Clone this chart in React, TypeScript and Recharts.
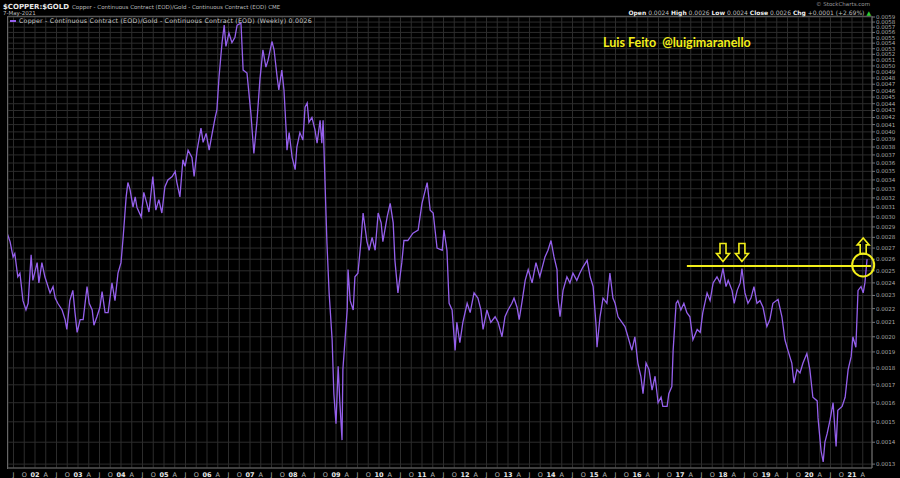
import React from 'react';
import { LineChart, Line, XAxis, YAxis, CartesianGrid, ReferenceLine, ReferenceDot } from 'recharts';

// weekly close of copper / gold (decimal years)
const weekDates = [
  2001.35, 2001.42, 2001.49, 2001.53, 2001.60, 2001.65, 2001.72, 2001.79, 2001.84, 2001.91,
  2001.95, 2002.05, 2002.09, 2002.16, 2002.23, 2002.35, 2002.42, 2002.47, 2002.53, 2002.63,
  2002.70, 2002.74, 2002.81, 2002.88, 2002.93, 2002.98, 2003.05, 2003.12, 2003.21, 2003.26,
  2003.33, 2003.37, 2003.44, 2003.51, 2003.56, 2003.63, 2003.70, 2003.79, 2003.86, 2003.93,
  2004.00, 2004.05, 2004.12, 2004.16, 2004.21, 2004.28, 2004.33, 2004.37, 2004.47, 2004.53,
  2004.60, 2004.65, 2004.74, 2004.81, 2004.88, 2004.95, 2005.02, 2005.09, 2005.19, 2005.26,
  2005.30, 2005.37, 2005.44, 2005.49, 2005.56, 2005.65, 2005.70, 2005.77, 2005.86, 2005.91,
  2005.98, 2006.05, 2006.12, 2006.19, 2006.23, 2006.28, 2006.35, 2006.40, 2006.44, 2006.51,
  2006.58, 2006.65, 2006.70, 2006.79, 2006.84, 2006.93, 2007.02, 2007.09, 2007.16, 2007.23,
  2007.30, 2007.37, 2007.42, 2007.51, 2007.56, 2007.63, 2007.67, 2007.74, 2007.79, 2007.84,
  2007.86, 2007.91, 2007.98, 2008.05, 2008.09, 2008.16, 2008.23, 2008.28, 2008.33, 2008.37,
  2008.44, 2008.51, 2008.56, 2008.63, 2008.67, 2008.70, 2008.74, 2008.79, 2008.84, 2008.91,
  2008.95, 2009.00, 2009.05, 2009.09, 2009.14, 2009.16, 2009.26, 2009.28, 2009.33, 2009.40,
  2009.44, 2009.51, 2009.58, 2009.63, 2009.72, 2009.77, 2009.84, 2009.91, 2009.98, 2010.05,
  2010.09, 2010.19, 2010.26, 2010.33, 2010.37, 2010.44, 2010.53, 2010.58, 2010.67, 2010.79,
  2010.91, 2011.00, 2011.12, 2011.19, 2011.26, 2011.35, 2011.47, 2011.51, 2011.58, 2011.63,
  2011.70, 2011.77, 2011.81, 2011.88, 2011.95, 2012.05, 2012.12, 2012.21, 2012.30, 2012.37,
  2012.42, 2012.51, 2012.60, 2012.70, 2012.77, 2012.86, 2012.93, 2013.00, 2013.09, 2013.14,
  2013.21, 2013.26, 2013.33, 2013.40, 2013.47, 2013.56, 2013.65, 2013.74, 2013.86, 2013.93,
  2014.00, 2014.07, 2014.14, 2014.16, 2014.21, 2014.28, 2014.37, 2014.44, 2014.51, 2014.60,
  2014.67, 2014.74, 2014.84, 2014.91, 2014.98, 2015.05, 2015.07, 2015.14, 2015.21, 2015.30,
  2015.37, 2015.44, 2015.49, 2015.56, 2015.65, 2015.72, 2015.79, 2015.88, 2015.95, 2016.02,
  2016.09, 2016.14, 2016.21, 2016.28, 2016.35, 2016.42, 2016.49, 2016.56, 2016.60, 2016.70,
  2016.74, 2016.81, 2016.84, 2016.91, 2016.95, 2017.02, 2017.09, 2017.16, 2017.23, 2017.30,
  2017.40, 2017.47, 2017.53, 2017.63, 2017.70, 2017.77, 2017.86, 2017.93, 2018.00, 2018.07,
  2018.12, 2018.21, 2018.26, 2018.33, 2018.40, 2018.44, 2018.51, 2018.58, 2018.65, 2018.72,
  2018.79, 2018.86, 2018.93, 2019.02, 2019.09, 2019.16, 2019.28, 2019.37, 2019.44, 2019.51,
  2019.60, 2019.65, 2019.72, 2019.79, 2019.86, 2019.95, 2020.02, 2020.09, 2020.19, 2020.21,
  2020.28, 2020.33, 2020.37, 2020.42, 2020.49, 2020.56, 2020.63, 2020.67, 2020.77, 2020.84,
  2020.91, 2020.98, 2021.02, 2021.09, 2021.14, 2021.21, 2021.26, 2021.30, 2021.35,
];

const copperGold = [
  0.00284, 0.00276, 0.00262, 0.00265, 0.00245, 0.00248, 0.00226, 0.00219, 0.00224, 0.00264,
  0.00242, 0.00257, 0.00240, 0.00257, 0.00245, 0.00232, 0.00237, 0.00228, 0.00224, 0.00219,
  0.00212, 0.00205, 0.00226, 0.00234, 0.00217, 0.00203, 0.00212, 0.00212, 0.00237, 0.00224,
  0.00219, 0.00208, 0.00214, 0.00221, 0.00233, 0.00217, 0.00217, 0.00240, 0.00226, 0.00248,
  0.00257, 0.00280, 0.00321, 0.00337, 0.00329, 0.00310, 0.00321, 0.00310, 0.00300, 0.00326,
  0.00314, 0.00305, 0.00344, 0.00307, 0.00318, 0.00304, 0.00332, 0.00340, 0.00344, 0.00350,
  0.00337, 0.00321, 0.00364, 0.00356, 0.00376, 0.00367, 0.00344, 0.00376, 0.00405, 0.00386,
  0.00398, 0.00376, 0.00398, 0.00420, 0.00431, 0.00482, 0.00541, 0.00574, 0.00534, 0.00559,
  0.00541, 0.00551, 0.00574, 0.00578, 0.00493, 0.00488, 0.00426, 0.00372, 0.00413, 0.00477,
  0.00528, 0.00498, 0.00510, 0.00543, 0.00528, 0.00482, 0.00461, 0.00493, 0.00461, 0.00403,
  0.00376, 0.00399, 0.00367, 0.00352, 0.00380, 0.00399, 0.00389, 0.00435, 0.00441, 0.00413,
  0.00420, 0.00403, 0.00385, 0.00416, 0.00385, 0.00416, 0.00344, 0.00274, 0.00232, 0.00198,
  0.00165, 0.00149, 0.00181, 0.00160, 0.00141, 0.00179, 0.00219, 0.00251, 0.00226, 0.00219,
  0.00245, 0.00248, 0.00276, 0.00304, 0.00276, 0.00268, 0.00280, 0.00268, 0.00304, 0.00294,
  0.00276, 0.00300, 0.00314, 0.00294, 0.00259, 0.00232, 0.00257, 0.00277, 0.00277, 0.00284,
  0.00287, 0.00314, 0.00337, 0.00307, 0.00304, 0.00270, 0.00268, 0.00287, 0.00268, 0.00224,
  0.00219, 0.00191, 0.00210, 0.00196, 0.00210, 0.00224, 0.00217, 0.00232, 0.00228, 0.00219,
  0.00205, 0.00219, 0.00210, 0.00214, 0.00210, 0.00200, 0.00214, 0.00219, 0.00224, 0.00228,
  0.00221, 0.00212, 0.00226, 0.00242, 0.00251, 0.00240, 0.00257, 0.00245, 0.00262, 0.00268,
  0.00277, 0.00262, 0.00251, 0.00228, 0.00214, 0.00234, 0.00245, 0.00240, 0.00248, 0.00242,
  0.00248, 0.00253, 0.00259, 0.00245, 0.00237, 0.00207, 0.00193, 0.00214, 0.00228, 0.00224,
  0.00248, 0.00228, 0.00224, 0.00214, 0.00210, 0.00207, 0.00200, 0.00191, 0.00200, 0.00183,
  0.00175, 0.00165, 0.00183, 0.00179, 0.00167, 0.00175, 0.00160, 0.00163, 0.00158, 0.00158,
  0.00165, 0.00169, 0.00191, 0.00224, 0.00226, 0.00219, 0.00224, 0.00217, 0.00214, 0.00198,
  0.00205, 0.00203, 0.00217, 0.00232, 0.00226, 0.00240, 0.00245, 0.00240, 0.00252, 0.00237,
  0.00242, 0.00234, 0.00224, 0.00234, 0.00240, 0.00252, 0.00232, 0.00224, 0.00228, 0.00237,
  0.00224, 0.00226, 0.00221, 0.00207, 0.00212, 0.00224, 0.00227, 0.00214, 0.00198, 0.00191,
  0.00183, 0.00171, 0.00179, 0.00177, 0.00183, 0.00189, 0.00179, 0.00163, 0.00161, 0.00152,
  0.00136, 0.00131, 0.00140, 0.00144, 0.00151, 0.00160, 0.00138, 0.00156, 0.00158, 0.00163,
  0.00179, 0.00187, 0.00200, 0.00193, 0.00234, 0.00237, 0.00232, 0.00240, 0.00260,
];

const years = [2002, 2003, 2004, 2005, 2006, 2007, 2008, 2009, 2010, 2011, 2012, 2013, 2014, 2015, 2016, 2017, 2018, 2019, 2020, 2021];
const quarterNames = ['', 'A', 'J', 'O'];

const priceTicks = [
  0.0013, 0.0014, 0.0015, 0.0016, 0.0017, 0.0018, 0.0019, 0.0020, 0.0021, 0.0022,
  0.0023, 0.0024, 0.0025, 0.0026, 0.0027, 0.0028, 0.0029, 0.0030, 0.0031, 0.0032,
  0.0033, 0.0034, 0.0035, 0.0036, 0.0037, 0.0038, 0.0039, 0.0040, 0.0041, 0.0042,
  0.0043, 0.0044, 0.0045, 0.0046, 0.0047, 0.0048, 0.0049, 0.0050, 0.0051, 0.0052,
  0.0053, 0.0054, 0.0055, 0.0056, 0.0057, 0.0058, 0.0059,
];

// annotation: resistance line touched twice in 2018, retested in 2021
const resistance = 0.00254;
const resistanceFrom = 2017.16;
const resistanceTo = 2021.44;
const topMarks = [{ x: 2018.0, y: 0.00266 }, { x: 2018.44, y: 0.00266 }];
const breakout = { x: 2021.26, y: 0.00255, arrowY: 0.00272 };

const data = weekDates.map((t, i) => ({ t, ratio: copperGold[i] }));
const quarterTicks = [2001.5, 2001.75, ...years.flatMap((y) => [y, y + 0.25, y + 0.5, y + 0.75])].filter((t) => t < 2021.3);

const YELLOW = '#f2ee1a';
const PURPLE = '#9560ec';

const XTick = (props: any) => {
  const { x, y, payload } = props;
  const v = payload.value;
  const yr = Math.floor(v + 0.001);
  const q = Math.round((v - yr) * 4);
  const isYear = q === 0;
  return (
    <text x={x} y={y + 7} textAnchor="middle" fontSize={6.5} fontFamily="DejaVu Sans"
      fontWeight={isYear ? 'bold' : 'normal'} fill={isYear ? '#e8e8e8' : '#b0b0b0'}>
      {isYear ? String(yr).slice(2) : quarterNames[q]}
    </text>
  );
};

const DownArrow = ({ cx, cy }: any) => (
  <path
    d={`M${cx - 3},${cy - 9} L${cx + 3},${cy - 9} L${cx + 3},${cy + 1} L${cx + 6.5},${cy + 1} L${cx},${cy + 9} L${cx - 6.5},${cy + 1} L${cx - 3},${cy + 1} Z`}
    fill="none" stroke={YELLOW} strokeWidth={1.6} strokeLinejoin="miter" />
);

const UpArrow = ({ cx, cy }: any) => (
  <path
    d={`M${cx - 3},${cy + 8} L${cx + 3},${cy + 8} L${cx + 3},${cy - 1} L${cx + 6},${cy - 1} L${cx},${cy - 8} L${cx - 6},${cy - 1} L${cx - 3},${cy - 1} Z`}
    fill="none" stroke={YELLOW} strokeWidth={1.6} />
);

const Ring = ({ cx, cy }: any) => (
  <ellipse cx={cx} cy={cy} rx={11} ry={11.5} fill="none" stroke={YELLOW} strokeWidth={2} />
);

export default function App() {
  return (
    <div style={{ position: 'fixed', left: 0, top: 0, width: 900, height: 478, background: '#000', overflow: 'hidden', fontFamily: 'DejaVu Sans' }}>
      <LineChart width={900} height={478} data={data} margin={{ top: 16, right: 0, bottom: 0, left: 8 }}>
        <CartesianGrid stroke="#2c2c2c" strokeWidth={1} />
        <XAxis dataKey="t" type="number" domain={[2001.372, 2021.465]} allowDataOverflow
          ticks={quarterTicks} interval={0} tick={<XTick />} tickLine={false} tickSize={0}
          axisLine={{ stroke: '#666' }} height={10} />
        <YAxis orientation="right" scale="log" domain={[0.001283, 0.00592]} allowDataOverflow
          ticks={priceTicks} interval={0} tickFormatter={(v: number) => v.toFixed(4)}
          tick={{ fontSize: 5.5, fill: '#a8a8a8', fontFamily: 'DejaVu Sans' }} tickSize={3} tickMargin={1}
          tickLine={{ stroke: '#777' }} axisLine={{ stroke: '#777' }} width={28} />
        <Line type="linear" dataKey="ratio" stroke={PURPLE} strokeWidth={1.3} dot={false} isAnimationActive={false} />
        <ReferenceLine segment={[{ x: resistanceFrom, y: resistance }, { x: resistanceTo, y: resistance }]}
          stroke={YELLOW} strokeWidth={2} ifOverflow="visible" />
        {topMarks.map((m, i) => (
          <ReferenceDot key={i} x={m.x} y={m.y} r={0} ifOverflow="visible" shape={(p: any) => <DownArrow cx={p.cx} cy={p.cy} />} />
        ))}
        <ReferenceDot x={breakout.x} y={breakout.arrowY} r={0} ifOverflow="visible" shape={(p: any) => <UpArrow cx={p.cx} cy={p.cy} />} />
        <ReferenceDot x={breakout.x} y={breakout.y} r={0} ifOverflow="visible" shape={(p: any) => <Ring cx={p.cx} cy={p.cy} />} />
      </LineChart>

      {/* plot frame */}
      <div style={{ position: 'absolute', left: 7, top: 16, width: 865, height: 452, borderLeft: '1px solid #666', borderTop: '1px solid #555', pointerEvents: 'none' }} />

      {/* header */}
      <div style={{ position: 'absolute', left: 3, top: 0, whiteSpace: 'nowrap', lineHeight: '8px', height: 8 }}>
        <span style={{ fontSize: 7, fontWeight: 'bold', color: '#e8e8e8' }}>$COPPER:$GOLD</span>
        <span style={{ fontSize: 5.5, color: '#bdbdbd', marginLeft: 3 }}>Copper - Continuous Contract (EOD)/Gold - Continuous Contract (EOD) CME</span>
      </div>
      <div style={{ position: 'absolute', left: 3, top: 10, fontSize: 5.5, color: '#bdbdbd', lineHeight: '6px' }}>7-May-2021</div>
      <div style={{ position: 'absolute', right: 30, top: 1, fontSize: 5.5, color: '#9a9a9a', lineHeight: '7px' }}>© StockCharts.com</div>
      <div style={{ position: 'absolute', right: 29, top: 9, fontSize: 6, color: '#bdbdbd', lineHeight: '7px', whiteSpace: 'nowrap' }}>
        <b style={{ color: '#eee' }}>Open</b> 0.0024 <b style={{ color: '#eee' }}>High</b> 0.0026 <b style={{ color: '#eee' }}>Low</b> 0.0024{' '}
        <b style={{ color: '#eee' }}>Close</b> 0.0026 <b style={{ color: '#eee' }}>Chg</b> +0.0001 (+2.69%) <span style={{ color: '#3c3' }}>▲</span>
      </div>

      {/* in-plot legend */}
      <div style={{ position: 'absolute', left: 10, top: 17, fontSize: 6.3, color: '#c4c4c4', lineHeight: '8px', whiteSpace: 'nowrap', letterSpacing: 0.2 }}>
        <span style={{ display: 'inline-block', width: 6, height: 2, background: PURPLE, verticalAlign: 'middle', marginRight: 3 }} />
        Copper - Continuous Contract (EOD)/Gold - Continuous Contract (EOD) (Weekly) 0.0026
      </div>

      <div style={{ position: 'absolute', left: 603, top: 35, fontSize: 12.5, fontWeight: 'bold', color: YELLOW, fontFamily: 'Lato', whiteSpace: 'pre' }}>
        Luis Feito  @luigimaranello
      </div>
    </div>
  );
}
